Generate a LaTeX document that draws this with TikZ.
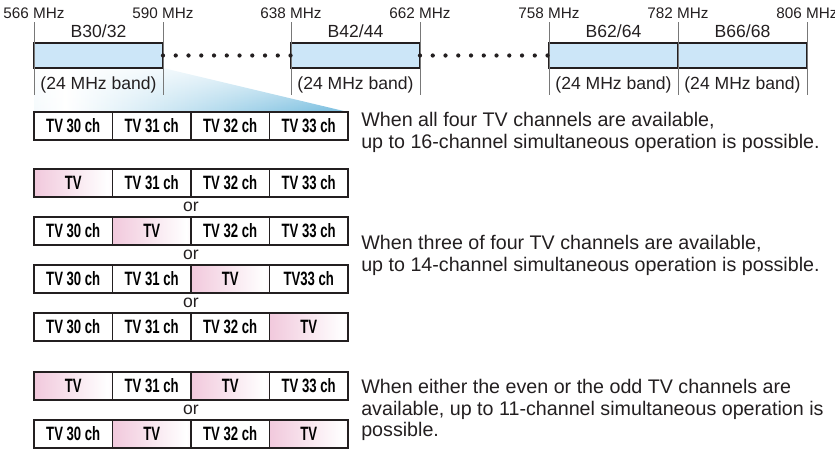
\documentclass[tikz,border=0pt]{standalone}
\usepackage{fontspec}
\setmainfont{Liberation Sans}
\newfontfamily\cellfont[FakeStretch=0.68, BoldFont={Liberation Sans Bold}]{Liberation Sans}
\usetikzlibrary{positioning, calc, backgrounds, fadings}
\definecolor{bandblue}{RGB}{204,230,248}
\definecolor{fanblue}{RGB}{125,192,224}
\definecolor{gappink}{RGB}{234,172,202}
\definecolor{inkgray}{RGB}{35,31,32}
\definecolor{tickgray}{RGB}{120,120,120}
\pgfdeclarehorizontalshading{fanshade}{100bp}{color(0bp)=(fanblue!50); color(30bp)=(white); color(72bp)=(fanblue); color(100bp)=(fanblue!65)}
\pgfdeclarehorizontalshading{gapfade}{100bp}{color(0bp)=(gappink); color(72bp)=(white); color(100bp)=(gappink!85)}
\tikzfading[name=fanfade, top color=transparent!75, bottom color=transparent!0]

\begin{document}
\begin{tikzpicture}[
    x=0.02cm, y=-0.02cm,
    band/.style={rectangle, draw=inkgray, line width=1.2pt, fill=bandblue, minimum width=2.58cm, minimum height=0.5cm, inner sep=0, outer sep=0},
    freq/.style={font=\fontsize{8.7}{10}\selectfont, inner sep=1.8pt, text=inkgray},
    bandname/.style={font=\fontsize{10}{12}\selectfont, inner sep=0, text=inkgray},
    tick/.style={draw=tickgray, line width=0.5pt},
    dotrow/.style={inkgray, line width=2.4pt, line cap=round, dash pattern=on 0pt off 7.26pt},
    tvcell/.style={rectangle, draw=inkgray, line width=0.6pt, minimum width=1.57cm, minimum height=0.56cm, inner sep=0, outer sep=0, font=\fontsize{11}{13}\cellfont\bfseries},
    tvgap/.style={tvcell, shade, shading=gapfade},
    rowframe/.style={draw=inkgray, line width=1.4pt},
    ortext/.style={font=\fontsize{10}{12}\selectfont, inner sep=0, text=inkgray},
    desc/.style={align=left, inner sep=0, text=inkgray, font=\fontsize{11.2}{12.5}\selectfont}
]
\useasboundingbox (0,0) rectangle (835,449);

% bands
\node[band] (b3032) at (98.5,55.5) {};
\node[band] (b4244) at (355.5,55.5) {};
\node[band] (b6264) at (613.5,55.5) {};
\node[band, right=0cm of b6264] (b6668) {};

% ticks
\draw[tick] ([yshift=0.42cm]b3032.north west) coordinate (t566) -- ([yshift=-0.54cm]b3032.south west);
\draw[tick] ([yshift=0.42cm]b3032.north east) coordinate (t590) -- ([yshift=-0.54cm]b3032.south east);
\draw[tick] ([yshift=0.42cm]b4244.north west) coordinate (t638) -- ([yshift=-0.54cm]b4244.south west);
\draw[tick] ([yshift=0.42cm]b4244.north east) coordinate (t662) -- ([yshift=-0.54cm]b4244.south east);
\draw[tick] ([yshift=0.42cm]b6264.north west) coordinate (t758) -- ([yshift=-0.54cm]b6264.south west);
\draw[tick] ([yshift=0.42cm]b6264.north east) coordinate (t782) -- ([yshift=-0.54cm]b6264.south east);
\draw[tick] ([yshift=0.42cm]b6668.north east) coordinate (t806) -- ([yshift=-0.54cm]b6668.south east);

% frequencies
\node[freq, above] (f566) at (t566) {566 MHz};
\node[freq, above] (f590) at (t590) {590 MHz};
\node[freq, above] (f638) at (t638) {638 MHz};
\node[freq, above] (f662) at (t662) {662 MHz};
\node[freq, above] (f758) at (t758) {758 MHz};
\node[freq, above] (f782) at (t782) {782 MHz};
\node[freq, above] (f806) at (t806) {806 MHz};

% band names
\node[bandname, anchor=base] (n3032) at ([yshift=0.12cm]b3032.north) {B30/32};
\node[bandname, anchor=base] (n4244) at ([yshift=0.12cm]b4244.north) {B42/44};
\node[bandname, anchor=base] (n6264) at ([yshift=0.12cm]b6264.north) {B62/64};
\node[bandname, anchor=base] (n6668) at ([yshift=0.12cm]b6668.north) {B66/68};

\node[bandname, anchor=base] (w3032) at ([yshift=-0.44cm]b3032.south) {(24 MHz band)};
\node[bandname, anchor=base] (w4244) at ([yshift=-0.44cm]b4244.south) {(24 MHz band)};
\node[bandname, anchor=base] (w6264) at ([yshift=-0.44cm]b6264.south) {(24 MHz band)};
\node[bandname, anchor=base] (w6668) at ([yshift=-0.44cm]b6668.south) {(24 MHz band)};

% dots between bands
\draw[dotrow] (b3032.east) -- (b4244.west);
\draw[dotrow] (b4244.east) -- (b6264.west);

% all four channels
\node[tvcell] (r1c1) at (73.25,126) {TV 30 ch};
\node[tvcell, right=0cm of r1c1] (r1c2) {TV 31 ch};
\node[tvcell, right=0cm of r1c2] (r1c3) {TV 32 ch};
\node[tvcell, right=0cm of r1c3] (r1c4) {TV 33 ch};
\draw[rowframe] (r1c1.north west) rectangle (r1c4.south east);

% three of four
\node[tvgap, below=0.58cm of r1c1] (r2c1) {TV};
\node[tvcell, right=0cm of r2c1] (r2c2) {TV 31 ch};
\node[tvcell, right=0cm of r2c2] (r2c3) {TV 32 ch};
\node[tvcell, right=0cm of r2c3] (r2c4) {TV 33 ch};
\draw[rowframe] (r2c1.north west) rectangle (r2c4.south east);

\node[tvcell, below=0.4cm of r2c1] (r3c1) {TV 30 ch};
\node[tvgap, right=0cm of r3c1] (r3c2) {TV};
\node[tvcell, right=0cm of r3c2] (r3c3) {TV 32 ch};
\node[tvcell, right=0cm of r3c3] (r3c4) {TV 33 ch};
\draw[rowframe] (r3c1.north west) rectangle (r3c4.south east);

\node[tvcell, below=0.4cm of r3c1] (r4c1) {TV 30 ch};
\node[tvcell, right=0cm of r4c1] (r4c2) {TV 31 ch};
\node[tvgap, right=0cm of r4c2] (r4c3) {TV};
\node[tvcell, right=0cm of r4c3] (r4c4) {TV33 ch};
\draw[rowframe] (r4c1.north west) rectangle (r4c4.south east);

\node[tvcell, below=0.4cm of r4c1] (r5c1) {TV 30 ch};
\node[tvcell, right=0cm of r5c1] (r5c2) {TV 31 ch};
\node[tvcell, right=0cm of r5c2] (r5c3) {TV 32 ch};
\node[tvgap, right=0cm of r5c3] (r5c4) {TV};
\draw[rowframe] (r5c1.north west) rectangle (r5c4.south east);

% even or odd
\node[tvgap, below=0.62cm of r5c1] (r6c1) {TV};
\node[tvcell, right=0cm of r6c1] (r6c2) {TV 31 ch};
\node[tvgap, right=0cm of r6c2] (r6c3) {TV};
\node[tvcell, right=0cm of r6c3] (r6c4) {TV 33 ch};
\draw[rowframe] (r6c1.north west) rectangle (r6c4.south east);

\node[tvcell, below=0.4cm of r6c1] (r7c1) {TV 30 ch};
\node[tvgap, right=0cm of r7c1] (r7c2) {TV};
\node[tvcell, right=0cm of r7c2] (r7c3) {TV 32 ch};
\node[tvgap, right=0cm of r7c3] (r7c4) {TV};
\draw[rowframe] (r7c1.north west) rectangle (r7c4.south east);

% or
\node[ortext] (or23) at ($(r2c2.south east)!0.5!(r3c2.north east)$) {or};
\node[ortext] (or34) at ($(r3c2.south east)!0.5!(r4c2.north east)$) {or};
\node[ortext] (or45) at ($(r4c2.south east)!0.5!(r5c2.north east)$) {or};
\node[ortext] (or67) at ($(r6c2.south east)!0.5!(r7c2.north east)$) {or};

% descriptions
\node[desc, anchor=north west] (desc1) at ([xshift=0.26cm]r1c4.north east)
    {When all four TV channels are available,\\up to 16-channel simultaneous operation is possible.};
\node[desc, anchor=west] (desc2) at ($(r3c4.south east)!0.5!(r4c4.north east)+(0.26cm,0)$)
    {When three of four TV channels are available,\\up to 14-channel simultaneous operation is possible.};
\node[desc, anchor=west] (desc3) at ($(r6c4.south east)!0.5!(r7c4.north east)+(0.26cm,0)$)
    {When either the even or the odd TV channels are\\available, up to 11-channel simultaneous operation is\\possible.};

% fan below B30/32
\begin{scope}[on background layer]
\shade[shading=fanshade, path fading=fanfade] (b3032.south west) -- (b3032.south east) -- (r1c4.north east) -- (r1c1.north west) -- cycle;
\end{scope}

\end{tikzpicture}
\end{document}
